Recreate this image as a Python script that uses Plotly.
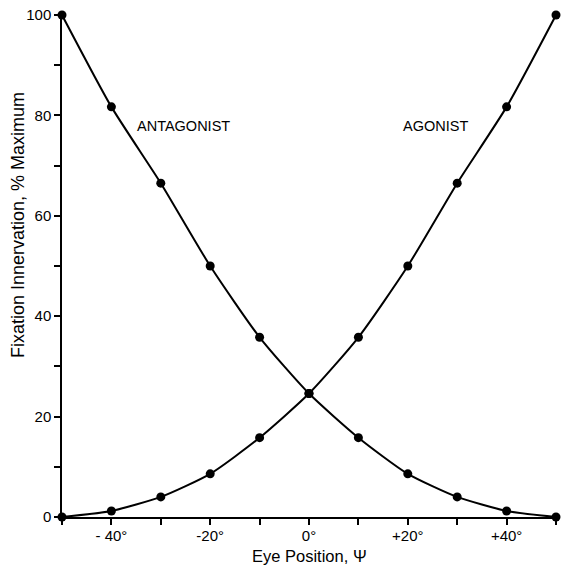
import plotly.graph_objects as go

eye_position = [-50, -40, -30, -20, -10, 0, 10, 20, 30, 40, 50]
agonist = [0, 1.2, 4.0, 8.6, 15.8, 24.6, 35.8, 50.0, 66.5, 81.7, 100]
antagonist = [100, 81.7, 66.5, 50.0, 35.8, 24.6, 15.8, 8.6, 4.0, 1.2, 0]

x_tickvals = [-50, -40, -30, -20, -10, 0, 10, 20, 30, 40, 50]
x_ticktext = ["", "- 40°", "", "-20°", "", "0°", "", "+20°", "", "+40°", ""]
y_tickvals = [0, 10, 20, 30, 40, 50, 60, 70, 80, 90, 100]
y_ticktext = ["0", "", "20", "", "40", "", "60", "", "80", "", "100"]

FONT = "Liberation Sans, Arial, Helvetica, sans-serif"

fig = go.Figure()
for name, vals in [("Agonist", agonist), ("Antagonist", antagonist)]:
    fig.add_trace(go.Scatter(
        x=eye_position, y=vals, mode="lines+markers", name=name,
        line=dict(color="black", width=2, shape="spline", smoothing=0.6),
        marker=dict(color="black", size=9),
        cliponaxis=False, showlegend=False,
    ))

fig.add_annotation(x=-25.5, y=77.8, text="ANTAGONIST", showarrow=False,
                   font=dict(family=FONT, size=14.5, color="black"))
fig.add_annotation(x=25.7, y=77.8, text="AGONIST", showarrow=False,
                   font=dict(family=FONT, size=14.5, color="black"))

# axis titles placed as annotations to match the reference positions
fig.add_annotation(xref="paper", yref="paper", x=(18 - 62) / 494, y=(517 - 225) / 502,
                   xanchor="center", yanchor="middle",
                   text="Fixation Innervation, % Maximum", textangle=-90, showarrow=False,
                   font=dict(family=FONT, size=18, color="black"))
fig.add_annotation(xref="paper", yref="paper", x=(309 - 62) / 494, y=(517 - 556) / 502,
                   xanchor="center", yanchor="middle",
                   text="Eye Position, Ψ", showarrow=False,
                   font=dict(family=FONT, size=16.5, color="black"))

fig.update_layout(
    width=562, height=566,
    margin=dict(l=62, r=6, t=15, b=49),
    plot_bgcolor="white", paper_bgcolor="white",
    font=dict(family=FONT, size=15, color="black"),
    xaxis=dict(
        range=[-50, 50], showgrid=False, zeroline=False,
        showline=True, linecolor="black", linewidth=1.5,
        ticks="outside", ticklen=6, tickwidth=1.5, tickcolor="black",
        tickvals=x_tickvals, ticktext=x_ticktext,
        ticklabelstandoff=-2,
    ),
    yaxis=dict(
        range=[0, 100], showgrid=False, zeroline=False,
        showline=True, linecolor="black", linewidth=1.5,
        ticks="outside", ticklen=6, tickwidth=1.5, tickcolor="black",
        tickvals=y_tickvals, ticktext=y_ticktext,
    ),
)

fig.write_html("out.html")
